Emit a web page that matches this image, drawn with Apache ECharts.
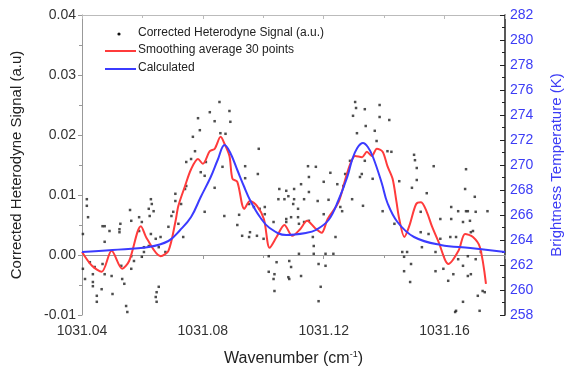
<html lang="en">
<head>
    <meta charset="UTF-8">
    <title>heterodyne</title>
    <script src="https://cdn.jsdelivr.net/npm/echarts@6/dist/echarts.min.js"></script>
    <style>
        html, body { margin: 0; padding: 0; background: #fff; }
        #chart { width: 572px; height: 374px; }
    </style>
</head>
<body>
<div id="chart"></div>
<script type="text/javascript">
    // 散点: [波数, 信号]
    var signal_pts = [
        [1031.0855, 0.0255], [1031.0823, 0.0238], [1031.0888, 0.0240], [1031.0784, 0.0228], [1031.0839, 0.0223],
        [1031.0891, 0.0222], [1031.0790, 0.0208], [1031.0858, 0.0203], [1031.0875, 0.0202], [1031.0767, 0.0197],
        [1031.0985, 0.0177], [1031.0774, 0.0173], [1031.0745, 0.0155], [1031.0761, 0.0160], [1031.0810, 0.0155],
        [1031.0865, 0.0147], [1031.0940, 0.0148], [1031.0793, 0.0138], [1031.0806, 0.0132], [1031.0982, 0.0135],
        [1031.0940, 0.0128], [1031.0745, 0.0115], [1031.0741, 0.0110], [1031.0839, 0.0112], [1031.0709, 0.0102],
        [1031.1053, 0.0110], [1031.1076, 0.0107], [1031.1102, 0.0110], [1031.0709, 0.0090], [1031.0728, 0.0085],
        [1031.0628, 0.0093], [1031.0631, 0.0085], [1031.0416, 0.0093], [1031.0416, 0.0082], [1031.0420, 0.0063],
        [1031.0559, 0.0075], [1031.0621, 0.0077], [1031.0637, 0.0073], [1031.0589, 0.0063], [1031.0563, 0.0057],
        [1031.0598, 0.0055], [1031.0624, 0.0065], [1031.0702, 0.0072], [1031.0696, 0.0065], [1031.0806, 0.0072],
        [1031.0871, 0.0065], [1031.0920, 0.0067], [1031.0953, 0.0085], [1031.0969, 0.0080], [1031.0988, 0.0077],
        [1031.1005, 0.0080], [1031.1005, 0.0068], [1031.1050, 0.0093], [1031.1070, 0.0093], [1031.1083, 0.0098],
        [1031.1102, 0.0093], [1031.1076, 0.0060], [1031.1092, 0.0063], [1031.0475, 0.0048], [1031.0527, 0.0052],
        [1031.0719, 0.0052], [1031.0914, 0.0050],
        [1031.0403, 0.0035], [1031.0468, 0.0048], [1031.0491, 0.0040], [1031.0524, 0.0043], [1031.0524, 0.0038],
        [1031.0475, 0.0022], [1031.0589, 0.0040], [1031.0628, 0.0035], [1031.0644, 0.0027], [1031.0660, 0.0030],
        [1031.0686, 0.0047], [1031.0735, 0.0030], [1031.0426, -0.0012], [1031.0468, -0.0015], [1031.0442, -0.0020],
        [1031.0403, -0.0023], [1031.0436, -0.0032], [1031.0475, -0.0032], [1031.0498, -0.0035], [1031.0530, -0.0018],
        [1031.0563, -0.0023], [1031.0572, -0.0010], [1031.0598, -0.0003], [1031.0605, 0.0005], [1031.0563, -0.0002],
        [1031.0605, 0.0013], [1031.0621, 0.0015], [1031.0654, 0.0013], [1031.0676, 0.0005], [1031.0533, -0.0040],
        [1031.0410, -0.0040], [1031.0436, -0.0045], [1031.0436, -0.0052], [1031.0465, -0.0057], [1031.0501, -0.0065],
        [1031.0449, -0.0068], [1031.0449, -0.0078], [1031.0540, -0.0048], [1031.0654, -0.0053], [1031.0647, -0.0062],
        [1031.0644, -0.0070], [1031.0647, -0.0078], [1031.0546, -0.0085], [1031.0550, -0.0095], [1031.1034, 0.0055],
        [1031.0979, 0.0032], [1031.1001, 0.0027], [1031.0930, 0.0032], [1031.0953, 0.0030], [1031.1018, -0.0002],
        [1031.1018, -0.0028], [1031.1037, -0.0032], [1031.1034, -0.0040], [1031.1037, -0.0060], [1031.1086, -0.0040],
        [1031.1092, -0.0020], [1031.1044, -0.0012], [1031.0956, 0.0038], [1031.1076, 0.0055],
        [1031.1118, 0.0052], [1031.1135, 0.0055], [1031.1164, 0.0030], [1031.1239, 0.0030], [1031.1086, -0.0010],
        [1031.1118, 0.0002], [1031.1167, 0.0015], [1031.1167, 0.0002], [1031.1206, 0.0002], [1031.1083, -0.0037],
        [1031.1125, -0.0035], [1031.1183, -0.0015], [1031.1206, -0.0018], [1031.1190, -0.0053], [1031.1183, -0.0077],
        [1031.1232, 0.0002], [1031.1460, 0.0005], [1031.1476, 0.0005], [1031.1466, -0.0003], [1031.1466, -0.0027],
        [1031.1489, -0.0015], [1031.1486, -0.0045], [1031.1521, 0.0038], [1031.1547, 0.0035], [1031.1525, 0.0013],
        [1031.1570, 0.0005], [1031.1586, 0.0027], [1031.1619, 0.0030], [1031.1638, 0.0030], [1031.1596, -0.0023],
        [1031.1612, -0.0043], [1031.1570, -0.0027], [1031.1629, -0.0032], [1031.1645, -0.0007], [1031.1661, -0.0018],
        [1031.1687, -0.0032], [1031.1677, -0.0002], [1031.1703, -0.0007], [1031.1720, 0.0005], [1031.1694, 0.0040],
        [1031.1661, 0.0055], [1031.1726, -0.0060], [1031.1710, -0.0068], [1031.1661, -0.0078], [1031.1638, -0.0093],
        [1031.1716, -0.0093], [1031.1635, -0.0095],
        [1031.1304, 0.0255], [1031.1307, 0.0245], [1031.1385, 0.0250], [1031.1336, 0.0243], [1031.1297, 0.0232],
        [1031.1385, 0.0230], [1031.1417, 0.0225], [1031.1339, 0.0215], [1031.1369, 0.0207], [1031.1310, 0.0203],
        [1031.1375, 0.0190], [1031.1411, 0.0173], [1031.1424, 0.0172], [1031.1499, 0.0167], [1031.1502, 0.0158],
        [1031.1287, 0.0157], [1031.1336, 0.0157], [1031.1564, 0.0148], [1031.1508, 0.0145], [1031.1148, 0.0148],
        [1031.1174, 0.0147], [1031.1326, 0.0135], [1031.1320, 0.0130], [1031.1151, 0.0130], [1031.1222, 0.0137],
        [1031.1271, 0.0135], [1031.1362, 0.0127], [1031.1450, 0.0123], [1031.1508, 0.0125], [1031.1671, 0.0143],
        [1031.1265, 0.0115], [1031.1245, 0.0118], [1031.1200, 0.0122], [1031.1125, 0.0118], [1031.1492, 0.0112],
        [1031.1668, 0.0110], [1031.1151, 0.0105], [1031.1541, 0.0103], [1031.1700, 0.0097], [1031.1216, 0.0092],
        [1031.1294, 0.0093], [1031.1180, 0.0090], [1031.1135, 0.0093], [1031.1099, 0.0085], [1031.1255, 0.0080],
        [1031.1330, 0.0082], [1031.1261, 0.0073], [1031.1115, 0.0077], [1031.1521, 0.0072], [1031.1622, 0.0080],
        [1031.1645, 0.0073], [1031.1677, 0.0073], [1031.1742, 0.0073], [1031.1586, 0.0060], [1031.1622, 0.0060],
        [1031.1395, 0.0073], [1031.1115, 0.0063], [1031.1151, 0.0057], [1031.1200, 0.0068], [1031.1434, 0.0052],
        [1031.1671, 0.0073], [1031.1703, 0.0072], [1031.1684, 0.0057], [1031.1687, 0.0038], [1031.1733, -0.0062],
        [1031.1677, -0.0035]
    ];

    // 30点平滑
    var smooth_x = [1031.0400, 1031.0433, 1031.0465, 1031.0498, 1031.0533, 1031.0556, 1031.0595, 1031.0615, 1031.0660, 1031.0686,
        1031.0709, 1031.0719, 1031.0741, 1031.0761, 1031.0784, 1031.0800, 1031.0823, 1031.0839, 1031.0859, 1031.0872,
        1031.0888, 1031.0898, 1031.0914, 1031.0937, 1031.0956, 1031.0979, 1031.1002, 1031.1021, 1031.1044, 1031.1070,
        1031.1096, 1031.1122, 1031.1145, 1031.1171, 1031.1193, 1031.1213, 1031.1249, 1031.1272, 1031.1288, 1031.1304,
        1031.1327, 1031.1343, 1031.1359, 1031.1376, 1031.1395, 1031.1411, 1031.1428, 1031.1441, 1031.1450, 1031.1467,
        1031.1483, 1031.1506, 1031.1522, 1031.1541, 1031.1558, 1031.1580, 1031.1613, 1031.1646, 1031.1668, 1031.1694,
        1031.1717, 1031.1737];
    var smooth_y = [0.0005, -0.0018, -0.0028, 0.0007, -0.0023, -0.0010, 0.0048, 0.0027, -0.0002, 0.0007,
        0.0055, 0.0082, 0.0115, 0.0143, 0.0160, 0.0152, 0.0173, 0.0177, 0.0197, 0.0185,
        0.0165, 0.0127, 0.0122, 0.0077, 0.0090, 0.0082, 0.0060, 0.0012, 0.0030, 0.0050,
        0.0032, 0.0043, 0.0057, 0.0045, 0.0037, 0.0060, 0.0088, 0.0127, 0.0152, 0.0165,
        0.0163, 0.0172, 0.0165, 0.0177, 0.0172, 0.0148, 0.0127, 0.0088, 0.0060, 0.0030,
        0.0048, 0.0085, 0.0088, 0.0072, 0.0048, 0.0022, -0.0015, 0.0007, 0.0035, 0.0030,
        0.0013, -0.0048];

    // 计算的亮温 (K)
    var calc_x = [1031.0400, 1031.0501, 1031.0621, 1031.0686, 1031.0725, 1031.0761, 1031.0793, 1031.0826, 1031.0849, 1031.0872,
        1031.0891, 1031.0914, 1031.0937, 1031.0956, 1031.0989, 1031.1021, 1031.1076, 1031.1141, 1031.1174, 1031.1216,
        1031.1249, 1031.1278, 1031.1294, 1031.1311, 1031.1330, 1031.1346, 1031.1363, 1031.1392, 1031.1411, 1031.1444,
        1031.1499, 1031.1587, 1031.1685, 1031.1800];
    var calc_k = [263.04, 263.20, 263.44, 263.92, 264.80, 265.84, 267.44, 269.04, 270.40, 271.60,
        270.96, 269.60, 268.24, 267.20, 265.84, 264.96, 264.40, 264.56, 264.80, 265.60,
        267.20, 269.04, 270.40, 271.36, 271.76, 271.44, 270.64, 268.56, 266.96, 265.44,
        264.24, 263.60, 263.36, 263.04];

    var x_ticks = [1031.04, 1031.08, 1031.12, 1031.16];

    function zip(a, b) {
        var out = [];
        for (var i = 0; i < a.length; i++) {
            out.push([a[i], b[i]]);
        }
        return out
    }

    var myChart = echarts.init(document.getElementById('chart'), null, {renderer: 'canvas'});
    var font = 'Liberation Sans, Arial, sans-serif';
    var grey = '#333';
    var blue = '#3c3cf5';

    var option = {
        animation: false,
        backgroundColor: '#fff',
        textStyle: {fontFamily: font},
        grid: {left: 82, right: 59, top: 15, bottom: 59},
        xAxis: [{
            type: 'value',
            min: 1031.04,
            max: 1031.18,
            interval: 0.04,
            name: '{a|Wavenumber (cm}{s|-1}{a|)}',
            nameLocation: 'middle',
            nameGap: 35,
            nameTextStyle: {
                rich: {
                    a: {fontSize: 16, color: '#222', fontFamily: font},
                    s: {fontSize: 9, color: '#222', fontFamily: font, verticalAlign: 'top', padding: [0, 0, 8, 0]}
                }
            },
            axisLine: {lineStyle: {color: '#999', width: 1}},
            axisTick: {length: 4, lineStyle: {color: '#999'}},
            minorTick: {show: true, splitNumber: 2, length: 3, lineStyle: {color: '#999'}},
            axisLabel: {
                color: grey, fontSize: 14, margin: 9,
                formatter: function (v) {
                    return x_ticks.indexOf(+v.toFixed(2)) >= 0 ? v.toFixed(2) : '';
                }
            },
            splitLine: {show: false}
        }, {
            type: 'value',
            position: 'top',
            min: 1031.04,
            max: 1031.18,
            interval: 0.04,
            axisLine: {onZero: false, lineStyle: {color: '#bbb', width: 1}},
            axisTick: {inside: true, length: 4, lineStyle: {color: '#bbb'}},
            minorTick: {show: true, splitNumber: 2, length: 3, lineStyle: {color: '#bbb'}},
            axisLabel: {show: false},
            splitLine: {show: false}
        }],
        yAxis: [{
            type: 'value',
            min: -0.01,
            max: 0.04,
            interval: 0.01,
            name: 'Corrected Heterodyne Signal (a.u)',
            nameLocation: 'middle',
            nameGap: 58,
            nameTextStyle: {fontSize: 15, color: '#222'},
            axisLine: {show: true, lineStyle: {color: '#999'}},
            axisTick: {show: true, length: 4, lineStyle: {color: '#999'}},
            minorTick: {show: true, splitNumber: 2, length: 3, lineStyle: {color: '#999'}},
            axisLabel: {
                color: grey, fontSize: 14, margin: 6,
                formatter: function (v) {
                    return v.toFixed(2);
                }
            },
            splitLine: {show: false}
        }, {
            type: 'value',
            position: 'right',
            min: 258,
            max: 282,
            interval: 2,
            name: 'Brightness Temperature (K)',
            nameLocation: 'middle',
            nameGap: 44,
            nameTextStyle: {fontSize: 15, color: blue},
            axisLine: {show: true, lineStyle: {color: '#222', width: 1.5}},
            axisTick: {show: true, inside: true, length: 5, lineStyle: {color: '#222'}},
            minorTick: {show: true, splitNumber: 2, length: 3, lineStyle: {color: '#222'}},
            axisLabel: {color: blue, fontSize: 14, margin: 5},
            splitLine: {show: false}
        }],
        graphic: [
            {type: 'circle', shape: {cx: 119, cy: 34, r: 1.6}, style: {fill: '#111'}},
            {type: 'text', left: 138, top: 27, style: {text: 'Corrected Heterodyne Signal (a.u.)', fontSize: 12, fontFamily: font, fill: '#222'}},
            {type: 'line', shape: {x1: 105, y1: 51, x2: 136, y2: 51}, style: {stroke: '#ff3b3b', lineWidth: 2}},
            {type: 'text', left: 138, top: 44, style: {text: 'Smoothing average 30 points', fontSize: 12, fontFamily: font, fill: '#222'}},
            {type: 'line', shape: {x1: 105, y1: 69, x2: 136, y2: 69}, style: {stroke: '#3b3bff', lineWidth: 2}},
            {type: 'text', left: 138, top: 62, style: {text: 'Calculated', fontSize: 12, fontFamily: font, fill: '#222'}}
        ],
        series: [
            {
                name: 'Corrected Heterodyne Signal (a.u.)',
                type: 'scatter',
                symbol: 'rect',
                symbolSize: 2.5,
                itemStyle: {color: '#222'},
                data: signal_pts,
                z: 2
            },
            {
                name: 'Smoothing average 30 points',
                type: 'line',
                smooth: 0.3,
                symbol: 'none',
                lineStyle: {color: '#ff3b3b', width: 2},
                data: zip(smooth_x, smooth_y),
                z: 3
            },
            {
                name: 'Calculated',
                type: 'line',
                yAxisIndex: 1,
                smooth: 0.4,
                symbol: 'none',
                lineStyle: {color: '#3b3bff', width: 2},
                data: zip(calc_x, calc_k),
                z: 4
            }
        ]
    };

    myChart.setOption(option); // 渲染echarts
</script>
</body>
</html>
